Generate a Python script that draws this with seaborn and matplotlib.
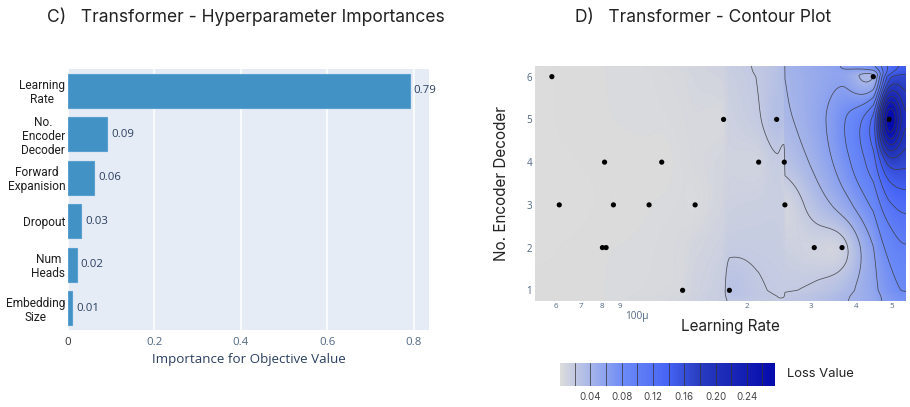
import numpy as np
import pandas as pd
import matplotlib
matplotlib.use("Agg")
import matplotlib.pyplot as plt
from matplotlib.colors import LinearSegmentedColormap, Normalize
from matplotlib.cm import ScalarMappable
import seaborn as sns

# ---------------- data ----------------
# Hyperparameter importances
param_names = ["Learning\nRate", "No.\nEncoder\nDecoder", "Forward\nExpanision",
               "Dropout", "Num\nHeads", "Embedding\nSize"]
importances = [0.79, 0.09, 0.06, 0.03, 0.02, 0.01]

# Trials: learning rate, number of encoder/decoder layers, loss
trial_lr = [5.84e-5, 8.15e-5, 1.17e-4, 1.73e-4, 2.16e-4, 2.42e-4, 2.54e-4,
            4.46e-4, 4.93e-4, 6.12e-5, 8.62e-5, 1.08e-4, 1.445e-4, 2.55e-4,
            8.04e-5, 8.23e-5, 3.07e-4, 3.66e-4, 1.335e-4, 1.795e-4]
trial_layers = [6, 4, 4, 5, 4, 5, 4, 6, 5, 3, 3, 3, 3, 3, 2, 2, 2, 2, 1, 1]
trial_loss = [0.002, 0.003, 0.002, 0.006, 0.011, 0.03, 0.015, 0.04, 0.276,
              0.001, 0.002, 0.003, 0.004, 0.008, 0.003, 0.003, 0.011, 0.014,
              0.006, 0.027]

x_minor_ticks = [6e-5, 7e-5, 8e-5, 9e-5, 2e-4, 3e-4, 4e-4, 5e-4]
x_minor_labels = ["6", "7", "8", "9", "2", "3", "4", "5"]
x_major_ticks = [1e-4]
x_major_labels = ["100µ"]
cbar_ticks = [0.04, 0.08, 0.12, 0.16, 0.20, 0.24]
contour_levels = np.round(np.arange(0.02, 0.27, 0.02), 2)

# ---------------- style ----------------
sns.set_theme(style="white")
plt.rcParams["font.family"] = ["Inter", "DejaVu Sans"]
TEXT_BLUE = "#2a3f5f"
TICK_GREY = "#506784"
OPEN = ["Open Sans", "DejaVu Sans"]

fig = plt.figure(figsize=(9.10, 4.07), dpi=100)
W, H = 910, 407


def axes_px(x0, y0, x1, y1):
    return fig.add_axes([x0 / W, 1 - y1 / H, (x1 - x0) / W, (y1 - y0) / H])


# ---------------- C) importances ----------------
ax1 = axes_px(68, 69, 429, 330)
ax1.set_facecolor("#E5ECF6")
imp_df = pd.DataFrame({"param": param_names, "importance": importances})
sns.barplot(data=imp_df, x="importance", y="param", orient="h",
            color="#4292c6", saturation=1, width=0.78, ax=ax1,
            edgecolor="#5aa0d0", linewidth=0.8)
ax1.bar_label(ax1.containers[0], fmt="%.2f", padding=3, fontsize=8.2,
              color=TEXT_BLUE, family=OPEN)
ax1.set_xlim(0, 0.835)
ax1.set_xticks([0, 0.2, 0.4, 0.6, 0.8])
ax1.set_xticklabels(["0", "0.2", "0.4", "0.6", "0.8"], family=OPEN)
ax1.grid(axis="x", color="white", linewidth=1.1)
ax1.grid(axis="y", visible=False)
ax1.set_axisbelow(True)
for s in ax1.spines.values():
    s.set_visible(False)
ax1.tick_params(axis="x", length=0, pad=5, labelsize=8.2, labelcolor=TICK_GREY)
ax1.tick_params(axis="y", length=0, pad=2, labelsize=8.6, labelcolor="#1e1e1e")
ax1.get_xticklabels()[0].set_color("#333333")
for lab in ax1.get_yticklabels():
    lab.set_family(["Roboto", "DejaVu Sans"])
    lab.set_multialignment("center")
    lab.set_linespacing(1.12)
ax1.set_ylabel("")
ax1.set_xlabel("Importance for Objective Value", fontsize=9.6,
               color=TEXT_BLUE, family=OPEN)
ax1.xaxis.set_label_coords(0.5, (330 - 359) / 261)
ax1.xaxis.label.set_va("center")

fig.text(245.5 / W, 1 - 17 / H, "C)   Transformer - Hyperparameter Importances",
         ha="center", va="center", fontsize=12.6, color="#222222")

# ---------------- D) contour ----------------
ax2 = axes_px(535, 66, 906, 301)

# grid built on the unique trial values, padded by 5% of the range
logx = np.log10(np.asarray(trial_lr))
yv = np.asarray(trial_layers, dtype=float)
zv = np.asarray(trial_loss)
xu = np.unique(logx)
yu = np.unique(yv)
padx = (xu.max() - xu.min()) * 0.05
pady = (yu.max() - yu.min()) * 0.05
xg = np.concatenate([[xu.min() - padx], xu, [xu.max() + padx]])
yg = np.concatenate([[yu.min() - pady], yu, [yu.max() + pady]])

Z = np.full((len(yg), len(xg)), np.nan)
for lx, ly, lz in zip(logx, yv, zv):
    Z[np.argmin(np.abs(yg - ly)), np.argmin(np.abs(xg - lx))] = lz

# fill gaps: repeated averaging of nearest neighbours (zero-derivative edges)
known = ~np.isnan(Z)
Zf = np.where(known, Z, np.nanmean(Z))
for _ in range(6000):
    p = np.pad(Zf, 1, mode="constant", constant_values=np.nan)
    neigh = np.stack([p[:-2, 1:-1], p[2:, 1:-1], p[1:-1, :-2], p[1:-1, 2:]])
    avg = np.nanmean(neigh, axis=0)
    Zf = np.where(known, Z, avg)


def hermite_resample(coarse, vals, fine):
    """Cubic Hermite (Catmull-Rom in index space) resampling along axis 0."""
    n = len(coarse)
    idx = np.clip(np.searchsorted(coarse, fine, side="right") - 1, 0, n - 2)
    t = (fine - coarse[idx]) / (coarse[idx + 1] - coarse[idx])
    m = np.zeros_like(vals)
    m[1:-1] = (vals[2:] - vals[:-2]) / 2.0
    h00 = 2 * t ** 3 - 3 * t ** 2 + 1
    h10 = t ** 3 - 2 * t ** 2 + t
    h01 = -2 * t ** 3 + 3 * t ** 2
    h11 = t ** 3 - t ** 2
    sh = (-1,) + (1,) * (vals.ndim - 1)
    return (h00.reshape(sh) * vals[idx] + h10.reshape(sh) * m[idx]
            + h01.reshape(sh) * vals[idx + 1] + h11.reshape(sh) * m[idx + 1])


fx = np.linspace(xg[0], xg[-1], 700)
fy = np.linspace(yg[0], yg[-1], 350)
Zfine = hermite_resample(yg, Zf, fy)            # rows
Zfine = hermite_resample(xg, Zfine.T, fx).T      # columns

plotly_blues_r = LinearSegmentedColormap.from_list("blues_r", [
    (0.0, (220 / 255, 220 / 255, 220 / 255)),
    (0.3, (106 / 255, 137 / 255, 247 / 255)),
    (0.4, (90 / 255, 120 / 255, 245 / 255)),
    (0.5, (70 / 255, 100 / 255, 245 / 255)),
    (0.65, (40 / 255, 60 / 255, 190 / 255)),
    (1.0, (5 / 255, 10 / 255, 172 / 255)),
])
norm = Normalize(vmin=zv.min(), vmax=zv.max())
FX, FY = np.meshgrid(10 ** fx, fy)
ax2.pcolormesh(FX, FY, np.clip(Zfine, zv.min(), zv.max()), cmap=plotly_blues_r,
               norm=norm, shading="gouraud", rasterized=True)
ax2.contour(FX, FY, Zfine, levels=contour_levels, colors="#3a3a3a",
            linewidths=0.55, alpha=0.85)
sns.scatterplot(x=trial_lr, y=trial_layers, color="black", s=14,
                edgecolor="none", ax=ax2, zorder=5)

ax2.set_xscale("log")
ax2.set_xlim(10 ** xg[0], 10 ** xg[-1])
ax2.set_ylim(yg[0], yg[-1])
ax2.set_xticks(x_major_ticks, x_major_labels)
ax2.set_xticks(x_minor_ticks, x_minor_labels, minor=True)
ax2.set_yticks([1, 2, 3, 4, 5, 6])
ax2.tick_params(axis="x", which="minor", length=0, pad=1.5, labelsize=5.8,
                labelcolor=TICK_GREY)
ax2.tick_params(axis="x", which="major", length=0, pad=7, labelsize=7.2,
                labelcolor=TICK_GREY)
ax2.tick_params(axis="y", length=0, pad=2, labelsize=7, labelcolor=TICK_GREY)
for lab in ax2.get_xticklabels(which="both") + ax2.get_yticklabels():
    lab.set_family(OPEN)
for s in ax2.spines.values():
    s.set_visible(False)
ax2.set_xlabel("Learning Rate", fontsize=11, color="#222222")
ax2.xaxis.set_label_coords((730 - 535) / 371, (301 - 327) / 235)
ax2.xaxis.label.set_va("center")
ax2.set_ylabel("No. Encoder Decoder", fontsize=11, color="#222222")
ax2.yaxis.set_label_coords((502 - 535) / 371, 0.5)
ax2.yaxis.label.set_va("center")

fig.text(703 / W, 1 - 17 / H, "D)   Transformer - Contour Plot",
         ha="center", va="center", fontsize=12.5, color="#222222")

# colour bar
cax = axes_px(560, 363, 775, 386)
cb = fig.colorbar(ScalarMappable(norm=norm, cmap=plotly_blues_r), cax=cax,
                  orientation="horizontal")
cb.outline.set_visible(False)
for lv in contour_levels:
    cax.axvline(lv, color="#333333", linewidth=0.6, alpha=0.85)
cb.set_ticks(cbar_ticks)
cb.set_ticklabels([f"{t:.2f}" for t in cbar_ticks])
cax.tick_params(length=0, pad=4, labelsize=7, labelcolor="#444444")
fig.text(787 / W, 1 - 374 / H, "Loss Value", ha="left", va="center",
         fontsize=9.4, color="#222222")

fig.savefig("out.png", dpi=100)
